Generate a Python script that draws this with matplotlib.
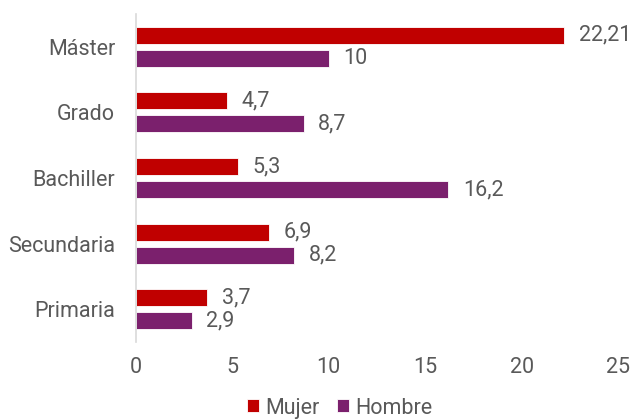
import matplotlib
matplotlib.use("Agg")
import matplotlib.pyplot as plt
import numpy as np

plt.rcParams['font.family'] = ['Roboto', 'DejaVu Sans']

categories = ["Máster", "Grado", "Bachiller", "Secundaria", "Primaria"]
mujer = [22.21, 4.7, 5.3, 6.9, 3.7]
hombre = [10, 8.7, 16.2, 8.2, 2.9]
mujer_labels = ["22,21", "4,7", "5,3", "6,9", "3,7"]
hombre_labels = ["10", "8,7", "16,2", "8,2", "2,9"]
xticks = [0, 5, 10, 15, 20, 25]

c_m = "#C00000"
c_h = "#7B206D"
txt = "#595959"
fs = 15.5

fig = plt.figure(figsize=(6.34, 4.19), dpi=100)
ax = fig.add_axes([136/634, 1-342/419, (618-136)/634, (342-14)/419])

y = np.arange(len(categories))
h = 0.26
off = 0.175
b1 = ax.barh(y - off, mujer, height=h, color=c_m, edgecolor="white", linewidth=0.6, label="Mujer")
b2 = ax.barh(y + off, hombre, height=h, color=c_h, edgecolor="white", linewidth=0.6, label="Hombre")

for yi, v, l in zip(y, mujer, mujer_labels):
    ax.text(v + 0.75, yi - off, l, va="center", ha="left", fontsize=fs, color=txt)
for yi, v, l in zip(y, hombre, hombre_labels):
    ax.text(v + 0.75, yi + off, l, va="center", ha="left", fontsize=fs, color=txt)

ax.set_ylim(len(categories) - 0.5, -0.5)
ax.set_xlim(0, 25)
ax.set_yticks(y)
ax.set_yticklabels(categories, fontsize=fs, color=txt)
ax.set_xticks(xticks)
ax.set_xticklabels([str(t) for t in xticks], fontsize=fs, color=txt)
ax.tick_params(axis='both', length=0)
ax.tick_params(axis='x', pad=11)
ax.tick_params(axis='y', pad=15)
for s in ["top", "right", "bottom"]:
    ax.spines[s].set_visible(False)
ax.spines["left"].set_color("#D9D9D9")
ax.spines["left"].set_linewidth(1.2)

leg = fig.legend(handles=[b1, b2], labels=["Mujer", "Hombre"], loc="center",
                 bbox_to_anchor=(340/634, 1-408/419), ncol=2, frameon=False,
                 fontsize=fs, handlelength=0.55, handleheight=0.55, handletextpad=0.3,
                 columnspacing=0.8, labelcolor=txt)

fig.savefig("out.png", dpi=100)
